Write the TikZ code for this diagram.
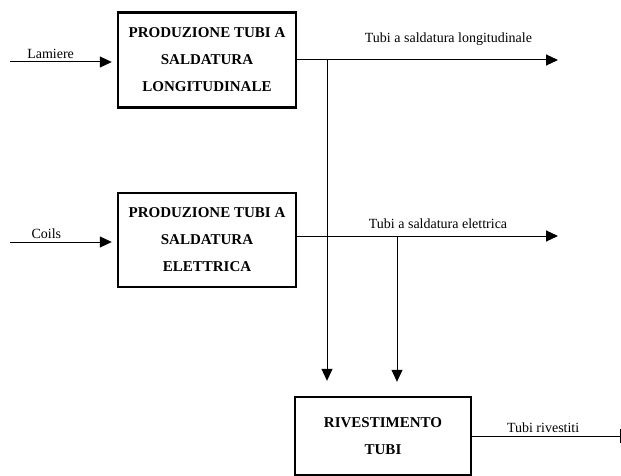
\documentclass[tikz,border=0pt]{standalone}
\usepackage{fontspec}
\setmainfont{Liberation Serif}
\usetikzlibrary{arrows.meta}

\begin{document}
\begin{tikzpicture}[x=1pt,y=-1pt,
  proc/.style={draw,line width=2.4pt,minimum width=178pt,minimum height=95pt,
    inner sep=0pt,align=center,font=\bfseries\fontsize{15}{27}\selectfont},
  flow/.style={line width=1pt,-{Triangle[length=12pt,width=11pt]}},
  lbl/.style={inner sep=2pt,font=\fontsize{14}{16}\selectfont}]
  \useasboundingbox (0,0) rectangle (621,476);
  % process boxes
  \node[proc] (longit) at (207,60) {PRODUZIONE TUBI A\\SALDATURA\\LONGITUDINALE};
  \node[proc,minimum height=94pt] (elett) at (207,240) {PRODUZIONE TUBI A\\SALDATURA\\ELETTRICA};
  \node[proc,minimum width=176pt,minimum height=78pt] (rivest) at (383,436) {RIVESTIMENTO\\TUBI};
  % free ends
  \coordinate (lamiere) at (10,62);
  \coordinate (coils) at (10,242);
  \coordinate (outL) at (558,60);
  \coordinate (outE) at (558,236);
  \coordinate (outR) at (620,436);
  \coordinate (jL) at (327,60);
  \coordinate (jE) at (397,236);
  % flows
  \draw[flow,shorten >=5pt] (lamiere) -- node[lbl,above=1pt,pos=0.38] {Lamiere} (lamiere -| longit.west);
  \draw[flow,shorten >=5pt] (coils) -- node[lbl,above=1pt,pos=0.34] {Coils} (coils -| elett.west);
  \draw[flow] (longit.east) -- node[lbl,above=12pt,pos=0.58] {Tubi a saldatura longitudinale} (outL);
  \draw[flow] (elett.east |- outE) -- node[lbl,above=5pt,pos=0.54] {Tubi a saldatura elettrica} (outE);
  \draw[flow,shorten >=15pt] (jL) -- (jL |- rivest.north);
  \draw[flow,shorten >=14pt] (jE) -- (jE |- rivest.north);
  \draw[line width=0.7pt] (rivest.east) -- node[lbl,above=1pt,pos=0.48] {Tubi rivestiti} (outR)
    ++(0,-7) -- ++(0,14);
\end{tikzpicture}
\end{document}
